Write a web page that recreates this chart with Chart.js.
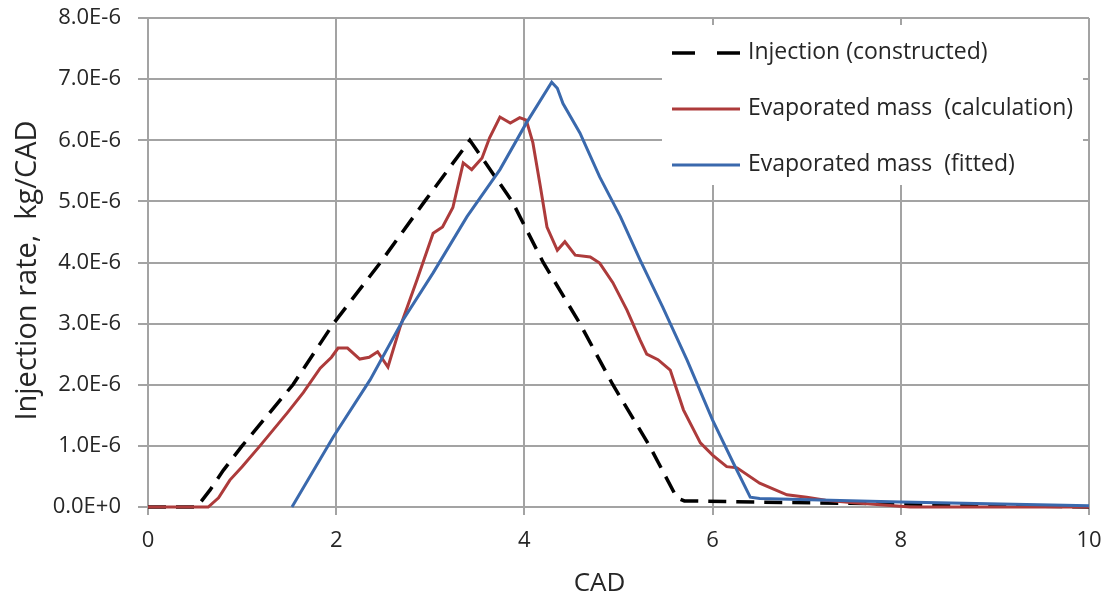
<!DOCTYPE html>
<html>
<head>
<meta charset="utf-8">
<title>Injection rate</title>
<script src="https://cdn.jsdelivr.net/npm/chart.js@4.4.0/dist/chart.umd.min.js"></script>
<style>
  html, body { margin: 0; padding: 0; background: #fff; }
  #wrap { width: 1107px; height: 600px; }
</style>
</head>
<body>
<div id="wrap"><canvas id="rateChart" width="1107" height="600"></canvas></div>
<script>
// rates are in units of 1E-6 kg/CAD
const injCad  = [0, 0.52, 0.66, 0.8, 1.0, 1.54, 1.97, 2.47, 2.94, 3.42, 3.87, 4.2, 4.59, 4.94, 5.33, 5.62, 5.7, 6.5, 8.0, 10];
const injRate = [0, 0, 0.28, 0.6, 1.0, 2.0, 3.0, 4.0, 5.0, 6.0, 5.0, 4.0, 3.0, 2.0, 1.0, 0.15, 0.1, 0.08, 0.05, 0];

const calcCad  = [0, 0.64, 0.75, 0.87, 1.0, 1.19, 1.48, 1.65, 1.83, 1.95, 2.02, 2.12, 2.25, 2.35, 2.44, 2.55, 2.68, 2.86,
                  3.03, 3.13, 3.24, 3.35, 3.44, 3.55, 3.63, 3.74, 3.85, 3.95, 4.02, 4.09, 4.17, 4.24, 4.35, 4.43, 4.54,
                  4.7, 4.8, 4.94, 5.09, 5.23, 5.3, 5.42, 5.55, 5.69, 5.87, 6.0, 6.15, 6.26, 6.5, 6.79, 7.0, 7.2, 7.5, 8.1, 10];
const calcRate = [0, 0, 0.15, 0.44, 0.66, 1.0, 1.54, 1.87, 2.27, 2.45, 2.6, 2.6, 2.42, 2.45, 2.54, 2.29, 2.95, 3.72,
                  4.48, 4.58, 4.9, 5.63, 5.52, 5.71, 6.04, 6.38, 6.28, 6.37, 6.33, 5.96, 5.24, 4.58, 4.2, 4.34, 4.12,
                  4.09, 3.99, 3.67, 3.22, 2.73, 2.5, 2.41, 2.24, 1.59, 1.05, 0.85, 0.66, 0.64, 0.39, 0.2, 0.16, 0.11, 0.07, 0, 0];

const fitCad  = [1.53, 1.97, 2.36, 2.71, 3.03, 3.39, 3.74, 4.02, 4.29, 4.35, 4.41, 4.59, 4.8, 5.02, 5.23, 5.47, 5.73, 6.0, 6.22, 6.4, 6.5, 8.0, 10];
const fitRate = [0, 1.15, 2.08, 3.06, 3.83, 4.75, 5.52, 6.28, 6.95, 6.85, 6.6, 6.12, 5.4, 4.75, 4.04, 3.27, 2.4, 1.42, 0.72, 0.16, 0.14, 0.08, 0.02];

const seriesNames = ['Injection (constructed)', 'Evaporated mass  (calculation)', 'Evaporated mass  (fitted)'];
const yTicks = [0, 1, 2, 3, 4, 5, 6, 7, 8];
const xTicks = [0, 2, 4, 6, 8, 10];

const FONT = "'Open Sans', 'Noto Sans', sans-serif";
const TEXT = '#262626';
const GRID = '#a3a3a3';

const toPoints = (xs, ys) => xs.map((x, i) => ({ x, y: ys[i] }));

// tick labels may overhang the plot edges, keep the plot box fixed
const noOverhang = scale => {
  scale.paddingTop = 0;
  scale.paddingBottom = 0;
  scale.paddingLeft = 0;
  scale.paddingRight = 0;
};

// legend box drawn inside the plot, top right
const legendBox = {
  id: 'legendBox',
  afterDraw(chart) {
    const { ctx, chartArea } = chart;
    const left = chartArea.right - 427;
    const top = chartArea.top + 7;
    ctx.save();
    ctx.fillStyle = '#fff';
    ctx.fillRect(left, top, 421, 160);
    ctx.font = `23px ${FONT}`;
    ctx.textBaseline = 'middle';
    chart.data.datasets.forEach((ds, i) => {
      const y = top + 28 + i * 56;
      ctx.beginPath();
      ctx.setLineDash(ds.borderDash ? [23, 22] : []);
      ctx.strokeStyle = ds.borderColor;
      ctx.lineWidth = ds.borderWidth;
      ctx.moveTo(left + 10, y);
      ctx.lineTo(left + 78, y);
      ctx.stroke();
      ctx.setLineDash([]);
      ctx.fillStyle = TEXT;
      ctx.fillText(ds.label, left + 86, y - 1);
    });
    ctx.restore();
  }
};

// axis titles
const axisTitles = {
  id: 'axisTitles',
  afterDraw(chart) {
    const { ctx, chartArea } = chart;
    ctx.save();
    ctx.fillStyle = TEXT;
    ctx.textAlign = 'center';
    ctx.textBaseline = 'middle';
    ctx.font = `26px ${FONT}`;
    ctx.fillText('CAD', (chartArea.left + chartArea.right) / 2 - 19, 584);
    ctx.translate(28, (chartArea.top + chartArea.bottom) / 2 + 8);
    ctx.rotate(-Math.PI / 2);
    ctx.font = `29px ${FONT}`;
    ctx.fillText('Injection rate,  kg/CAD', 0, 0);
    ctx.restore();
  }
};

new Chart(document.getElementById('rateChart'), {
  type: 'line',
  data: {
    datasets: [
      {
        label: seriesNames[0],
        data: toPoints(injCad, injRate),
        borderColor: '#000000',
        borderWidth: 3.5,
        borderDash: [18, 10],
        order: 2
      },
      {
        label: seriesNames[1],
        data: toPoints(calcCad, calcRate),
        borderColor: '#ad3b3b',
        borderWidth: 3,
        order: 1
      },
      {
        label: seriesNames[2],
        data: toPoints(fitCad, fitRate),
        borderColor: '#3a69ad',
        borderWidth: 3,
        order: 0
      }
    ]
  },
  options: {
    responsive: false,
    animation: false,
    clip: false,
    elements: { point: { radius: 0 }, line: { tension: 0 } },
    layout: { padding: { top: 18, right: 18, left: 0, bottom: 0 } },
    scales: {
      x: {
        type: 'linear',
        min: 0,
        max: 10,
        afterBuildTicks: scale => { scale.ticks = xTicks.map(v => ({ value: v })); },
        afterFit: scale => { scale.height = 93; noOverhang(scale); },
        ticks: { font: { family: FONT, size: 22 }, color: TEXT, padding: 13, maxRotation: 0 },
        grid: { color: GRID, lineWidth: 2, tickLength: 8, tickColor: GRID },
        border: { color: GRID, width: 2 }
      },
      y: {
        min: 0,
        max: 8,
        afterBuildTicks: scale => { scale.ticks = yTicks.map(v => ({ value: v })); },
        afterFit: scale => { scale.width = 148; noOverhang(scale); },
        ticks: {
          font: { family: FONT, size: 22 },
          color: TEXT,
          padding: 17,
          callback: v => v === 0 ? '0.0E+0' : v.toFixed(1) + 'E-6'
        },
        grid: { color: GRID, lineWidth: 2, tickLength: 10, tickColor: GRID },
        border: { color: GRID, width: 2 }
      }
    },
    plugins: {
      legend: { display: false },
      tooltip: { enabled: false }
    }
  },
  plugins: [legendBox, axisTitles]
});
</script>
</body>
</html>
